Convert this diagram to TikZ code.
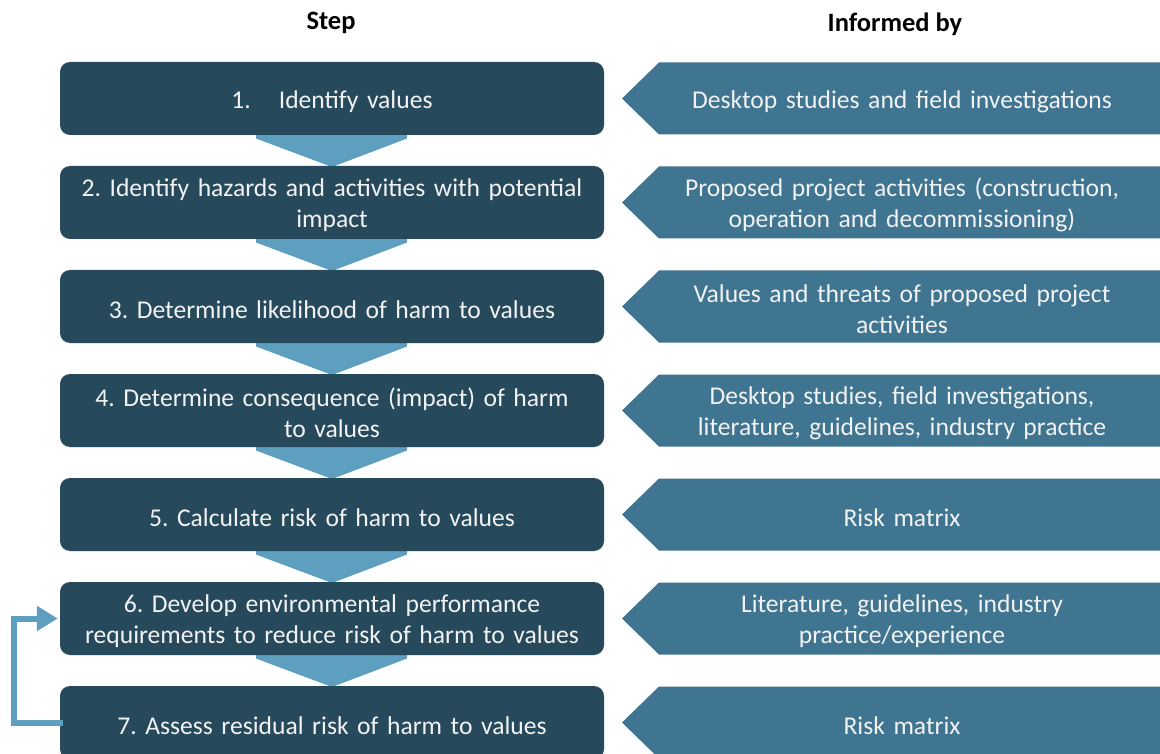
\documentclass[tikz,border=0pt]{standalone}
\usepackage{fontspec}
\setmainfont{Carlito}
\usetikzlibrary{calc,arrows.meta}
\definecolor{stepcol}{HTML}{264A5C}
\definecolor{infocol}{HTML}{3F7590}
\definecolor{chevcol}{HTML}{5E9EBF}
\definecolor{txtcol}{HTML}{F2F2F2}
\tikzset{
  stepbox/.style={rounded corners=10pt, fill=stepcol, minimum width=544pt, minimum height=73pt, inner sep=0pt},
  steptext/.style={text width=540pt, align=center, inner sep=0pt, text=txtcol, font=\fontsize{25.6}{31}\selectfont},
  infotext/.style={text width=490pt, align=center, inner sep=0pt, text=txtcol, font=\fontsize{25.6}{31}\selectfont},
  infoshape/.style={fill=infocol},
  chev/.style={fill=chevcol},
  header/.style={font=\fontsize{26.5}{30}\selectfont\bfseries, inner sep=0pt},
  fb/.style={draw=chevcol, line width=6pt, -{Triangle[length=21pt,width=24pt]}}
}
\begin{document}
\frenchspacing
\begin{tikzpicture}[x=1pt,y=-1pt]
\useasboundingbox (0,0) rectangle (1160,754);
% headers
\node[header] (h1) at (331,23) {Step};
\node[header] (h2) at (895,24) {Informed by};
% step box centres
\foreach \i in {1,...,7}{
  \coordinate (c\i) at (332,{98.5+104*(\i-1)});
}
% chevrons (behind boxes)
\foreach \i [evaluate=\i as \j using int(\i+1)] in {1,...,6}{
  \fill[chev] ($(c\i)+(-76,33)$) -- ($(c\i)+(75,33)$) -- ($(c\i)+(75,40)$)
     -- ($(c\j)+(0,-35.5)$) -- ($(c\i)+(-76,40)$) -- cycle;
}
% step boxes
\foreach \i in {1,...,7}{
  \node[stepbox] (s\i) at (c\i) {};
}
\node[steptext] (t1) at ([yshift=-3pt]s1.center) {1.\hspace{28pt}Identify values};
\node[steptext] (t2) at ([yshift=-2.5pt]s2.center) {2. Identify hazards and activities with potential\\ impact};
\node[steptext] (t3) at ([yshift=-3pt]s3.center) {3. Determine likelihood of harm to values};
\node[steptext] (t4) at ([yshift=-2.5pt]s4.center) {4. Determine consequence (impact) of harm\\ to values};
\node[steptext] (t5) at ([yshift=-3pt]s5.center) {5. Calculate risk of harm to values};
\node[steptext] (t6) at ([yshift=-2.5pt]s6.center) {6. Develop environmental performance\\ requirements to reduce risk of harm to values};
\node[steptext] (t7) at ([yshift=-3pt]s7.center) {7. Assess residual risk of harm to values};
% informed-by arrows
\foreach \i in {1,...,7}{
  \fill[infoshape] ($(c\i)+(290,0)$) -- ($(c\i)+(327,-36)$) -- ($(c\i)+(840,-36)$)
     -- ($(c\i)+(840,36)$) -- ($(c\i)+(327,36)$) -- cycle;
}
\node[infotext] (i1) at ($(c1)+(570,3)$) {Desktop studies and field investigations};
\node[infotext] (i2) at ($(c2)+(570,2.5)$) {Proposed project activities (construction,\\ operation and decommissioning)};
\node[infotext] (i3) at ($(c3)+(570,2.5)$) {Values and threats of proposed project\\ activities};
\node[infotext] (i4) at ($(c4)+(570,2.5)$) {Desktop studies, field investigations,\\ literature, guidelines, industry practice};
\node[infotext] (i5) at ($(c5)+(570,3)$) {Risk matrix};
\node[infotext] (i6) at ($(c6)+(570,2.5)$) {Literature, guidelines, industry\\ practice/experience};
\node[infotext] (i7) at ($(c7)+(570,3)$) {Risk matrix};
% feedback loop
\draw[fb] ([xshift=3pt]s7.west) -- ++(-49,0) |- ([xshift=-2pt]s6.west);
\end{tikzpicture}
\end{document}
